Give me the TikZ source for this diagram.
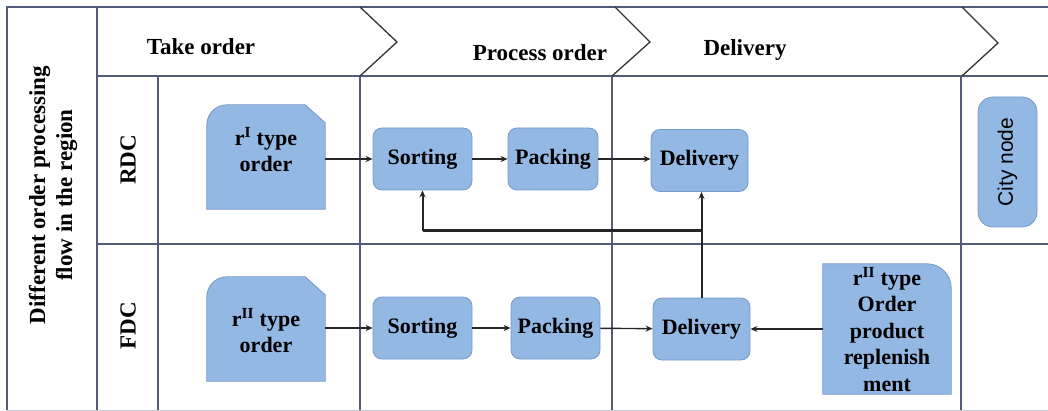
\documentclass[tikz,border=0pt]{standalone}
\usepackage{fontspec}
\setmainfont{Liberation Serif}
\setsansfont{Liberation Sans}
\usetikzlibrary{arrows.meta,calc}
\definecolor{gridc}{RGB}{84,90,122}
\definecolor{boxfill}{RGB}{148,184,228}
\definecolor{boxline}{RGB}{118,152,200}
\begin{document}
\begin{tikzpicture}[x=1pt,y=-1pt,
  grid/.style={draw=gridc,line width=1.4pt},
  chev/.style={draw=black!80,line width=1.3pt},
  lbl/.style={font=\fontsize{23}{27}\selectfont\bfseries,inner sep=0pt,align=center},
  proc/.style={draw=boxline,fill=boxfill,rounded corners=9pt,line width=0.8pt,
    minimum height=62pt,inner sep=0pt,font=\fontsize{22}{26.5}\selectfont\bfseries,align=center},
  shapebox/.style={draw=boxline,fill=boxfill,line width=0.8pt},
  holder/.style={draw=none,inner sep=0pt},
  txt/.style={inner sep=0pt,font=\fontsize{22}{26.5}\selectfont\bfseries,align=center},
  arr/.style={draw=black!85,line width=1.4pt,-{Stealth[length=7pt,width=6pt]}},
  fb/.style={draw=black!85,line width=2.2pt},
  fbarr/.style={draw=black!85,line width=2pt,-{Stealth[length=7pt,width=6pt]}}
]
\useasboundingbox (0,0) rectangle (1048,411);

% frame and grid
\draw[grid] (1048,7) -- (7,7) -- (7,410);
\draw[grid] (97,7) -- (97,410);
\draw[grid] (97,76) -- (1048,76);
\draw[grid] (158,76) -- (158,410);
\draw[grid] (97,244) -- (1048,244);
\draw[grid] (360,76) -- (360,410);
\draw[grid] (612,76) -- (612,410);
\draw[grid] (961,76) -- (961,410);
\draw[draw=gridc!35,line width=1pt] (7,410) -- (1048,410);

% header chevrons
\draw[chev] (360,7) -- (397,42) -- (360,76);
\draw[chev] (615,7) -- (650,42) -- (612,76);
\draw[chev] (962,7) -- (998,43) -- (962,76);

% header labels
\node[lbl] (h1) at (201,47) {Take order};
\node[lbl] (h2) at (540,53) {Process order};
\node[lbl] (h3) at (745,50) {Delivery};

% left labels
\node[lbl,rotate=90] (side) at (53,195) {Different order processing\\flow in the region};
\node[lbl,rotate=90] (rdc) at (128,160) {RDC};
\node[lbl,rotate=90] (fdc) at (128,326) {FDC};

% RDC order (snipped corner box)
\node[holder,minimum width=118pt,minimum height=104pt] (oR) at (266,157) {};
\path[shapebox] (oR.south west) -- ($(oR.north west)+(0,20)$)
  .. controls ($(oR.north west)+(0,9)$) and ($(oR.north west)+(9,0)$) .. ($(oR.north west)+(20,0)$)
  -- ($(oR.north east)+(-20,0)$) -- ($(oR.north east)+(0,18)$) -- (oR.south east) -- cycle;
\node[txt] (oRt) at (266,150) {r\textsuperscript{I} type\\order};

% FDC order
\node[holder,minimum width=118pt,minimum height=104pt] (oF) at (266,329) {};
\path[shapebox] (oF.south west) -- ($(oF.north west)+(0,20)$)
  .. controls ($(oF.north west)+(0,9)$) and ($(oF.north west)+(9,0)$) .. ($(oF.north west)+(20,0)$)
  -- ($(oF.north east)+(-20,0)$) -- ($(oF.north east)+(0,18)$) -- (oF.south east) -- cycle;
\node[txt] (oFt) at (266,331) {r\textsuperscript{II} type\\order};

% process boxes
\node[proc,minimum width=99pt] (sR) at (422.5,159) {Sorting};
\node[proc,minimum width=90pt] (pR) at (553,159) {Packing};
\node[proc,minimum width=97pt] (dR) at (699.5,160.5) {Delivery};
\node[proc,minimum width=99pt] (sF) at (422.5,328) {Sorting};
\node[proc,minimum width=89pt] (pF) at (555.5,328) {Packing};
\node[proc,minimum width=97pt] (dF) at (701.5,329) {Delivery};

% replenishment box
\node[holder,minimum width=128pt,minimum height=130pt] (rep) at (887,329) {};
\path[shapebox] (rep.south west) -- (rep.north west) -- ($(rep.north east)+(-24,0)$)
  .. controls ($(rep.north east)+(-11,0)$) and ($(rep.north east)+(0,11)$) .. ($(rep.north east)+(0,24)$)
  -- (rep.south east) -- cycle;
\node[txt] (rept) at (887,329.5) {r\textsuperscript{II} type\\Order\\product\\replenish\\ment};

% city node
\node[draw=boxline,fill=boxfill,line width=0.8pt,rounded corners=15pt,
  minimum width=130pt,minimum height=59pt,inner sep=0pt,rotate=90,
  font=\sffamily\fontsize{21}{25}\selectfont] (city) at (1007.5,162) {City node};

% connectors
\draw[arr] (oR.east |- sR.west) -- (sR.west);
\draw[arr] (sR) -- (pR);
\draw[arr] (pR.east) -- (dR.west |- pR.east);
\draw[arr] (oF.east |- sF.west) -- (sF.west);
\draw[arr] (sF) -- (pF);
\draw[arr] (pF) -- (dF);
\draw[arr] (rep.west |- dF.east) -- (dF.east);

% feedback
\draw[fbarr] (dF.north) -- (dF.north |- dR.south);
\coordinate (fbr) at ($(dF.north)+(0,-67)$);
\draw[fb] (fbr) -- (fbr -| sR.south);
\draw[fbarr] (fbr -| sR.south) -- (sR.south);
\end{tikzpicture}
\end{document}
